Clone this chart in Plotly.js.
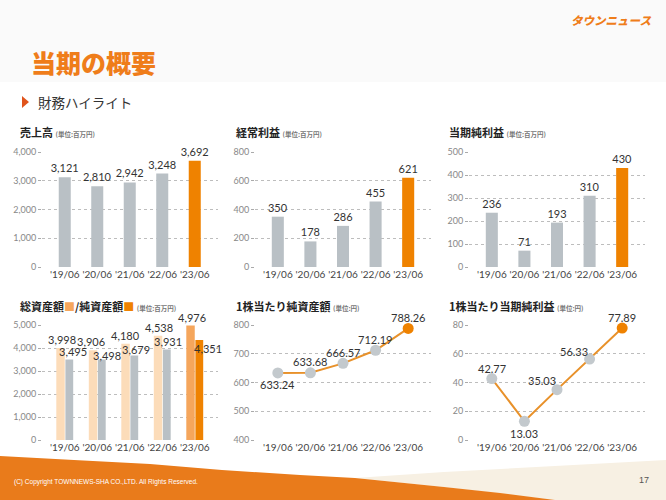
<!DOCTYPE html>
<html><head><meta charset="utf-8">
<script src="https://cdn.plot.ly/plotly-3.0.1.min.js"></script>
<style>html,body{margin:0;padding:0;background:#fff}#chart{width:666px;height:500px}</style>
</head><body><div id="chart"></div>
<script>
// ---- data ----
const years = ["'19/06", "'20/06", "'21/06", "'22/06", "'23/06"];
const sales = [3121, 2810, 2942, 3248, 3692];
const ordinaryProfit = [350, 178, 286, 455, 621];
const netIncome = [236, 71, 193, 310, 430];
const totalAssets = [3998, 3906, 4180, 4538, 4976];
const netAssets = [3495, 3498, 3679, 3931, 4351];
const bookValuePerShare = [633.24, 633.68, 666.57, 712.19, 788.26];
const earningsPerShare = [42.77, 13.03, 35.03, 56.33, 77.89];
const panelTitles = ["売上高", "経常利益", "当期純利益", "総資産額", "1株当たり純資産額", "1株当たり当期純利益"];
const unitMillion = "(単位:百万円)";
const unitYen = "(単位:円)";

// ---- style ----
const W = 666, H = 500;
const GRAY = '#b9c0c5', ORANGE = '#ef8200', BEIGE = '#fcdcb9', LIGHTOR = '#f5a65c';
const LINEOR = '#e8912a', MARKGRAY = '#c3c9cd';
const NUMFONT = 'Lato, "Noto Sans CJK JP", sans-serif';
const JPFONT = '"Noto Sans CJK JP", sans-serif';
const px = x => x / W;
const py = y => 1 - y / H;
const last = years.length - 1;
const hl = (base, hi) => years.map((_, i) => i === last ? hi : base);

const colX = [[42, 217.5], [255, 431], [469, 645]];
const rowY = [[152, 267], [325, 440]];
const sfx = n => (n === 1 ? '' : String(n));
function xax(c, r) {
  return {domain: [px(colX[c][0]), px(colX[c][1])], type: 'category', range: [-0.7, 4.7],
    anchor: 'y' + sfx(r * 3 + c + 1),
    showgrid: false, zeroline: false, showline: false, ticks: '',
    tickfont: {size: 10, color: '#444', family: NUMFONT}, fixedrange: true};
}
function yax(c, r, range, dtick) {
  return {domain: [py(rowY[r][1]), py(rowY[r][0])], range: range, dtick: dtick, tickformat: ',d',
    anchor: 'x' + sfx(r * 3 + c + 1),
    showgrid: true, gridcolor: '#bdbdbd', griddash: 'dot', gridwidth: 1,
    zeroline: true, zerolinecolor: 'rgba(0,0,0,0)', showline: false,
    ticks: 'outside', ticklen: 3, tickcolor: '#aaa',
    tickfont: {size: 9, color: '#888', family: NUMFONT}, fixedrange: true};
}

const labelFont = {size: 11, color: '#333', family: NUMFONT};
function singleBar(vals, xa, ya) {
  return {type: 'bar', x: years, y: vals, xaxis: xa, yaxis: ya, width: 0.37,
    marker: {color: hl(GRAY, ORANGE)}, text: vals.map(v => v.toLocaleString('en-US')),
    textposition: 'outside', constraintext: 'none', cliponaxis: false, textfont: labelFont};
}
function lineTrace(vals, xa, ya) {
  return {type: 'scatter', mode: 'lines+markers', x: years, y: vals, xaxis: xa, yaxis: ya,
    line: {color: LINEOR, width: 2}, marker: {size: 11, color: hl(MARKGRAY, ORANGE)}, cliponaxis: false};
}

const traces = [
  singleBar(sales, 'x', 'y'),
  singleBar(ordinaryProfit, 'x2', 'y2'),
  singleBar(netIncome, 'x3', 'y3'),
  {type: 'bar', x: years, y: totalAssets, xaxis: 'x4', yaxis: 'y4', width: 0.26, offset: -0.26,
    marker: {color: hl(BEIGE, LIGHTOR)}},
  {type: 'bar', x: years, y: netAssets, xaxis: 'x4', yaxis: 'y4', width: 0.24, offset: 0.02,
    marker: {color: hl(GRAY, ORANGE)}},
  lineTrace(bookValuePerShare, 'x5', 'y5'),
  lineTrace(earningsPerShare, 'x6', 'y6')
];

const annotations = [];
// value labels for grouped panel
const totShiftX = [-3, -6, -4, -3, -3];
const netShiftX = [8, 10, 6, 6, 13];
const netShiftY = [0, -4, -3, 0, -17];
years.forEach((yr, i) => {
  annotations.push({xref: 'x4', yref: 'y4', x: yr, y: totalAssets[i], text: totalAssets[i].toLocaleString('en-US'),
    showarrow: false, yanchor: 'bottom', xshift: totShiftX[i], font: labelFont});
  annotations.push({xref: 'x4', yref: 'y4', x: yr, y: netAssets[i], text: netAssets[i].toLocaleString('en-US'),
    showarrow: false, yanchor: 'bottom', xshift: netShiftX[i], yshift: netShiftY[i], font: labelFont});
});
// value labels for line panels
const bpsShift = [[0, -12], [0, 11], [0, 11], [0, 11], [0, 11]];
const epsShift = [[0, 10], [0, -12], [-15, 9], [-16, 8], [0, 11]];
years.forEach((yr, i) => {
  annotations.push({xref: 'x5', yref: 'y5', x: yr, y: bookValuePerShare[i], text: bookValuePerShare[i].toFixed(2),
    showarrow: false, xshift: bpsShift[i][0], yshift: bpsShift[i][1], font: labelFont});
  annotations.push({xref: 'x6', yref: 'y6', x: yr, y: earningsPerShare[i], text: earningsPerShare[i].toFixed(2),
    showarrow: false, xshift: epsShift[i][0], yshift: epsShift[i][1], font: labelFont});
});
// panel titles
const unitSpan = u => ' <span style="font-size:6.5px;color:#777">' + u + '</span>';
const titlePos = [[18, 132], [234, 132], [447, 132], [18, 306], [234, 306], [447, 306]];
const titleTexts = [
  panelTitles[0] + unitSpan(unitMillion),
  panelTitles[1] + unitSpan(unitMillion),
  panelTitles[2] + unitSpan(unitMillion),
  panelTitles[3] + '<span style="color:' + LIGHTOR + '">■</span>/純資産額<span style="color:' + ORANGE + '">■</span>' + unitSpan(unitMillion),
  panelTitles[4] + unitSpan(unitYen),
  panelTitles[5] + unitSpan(unitYen)
];
titleTexts.forEach((t, i) => annotations.push({xref: 'paper', yref: 'paper', x: px(titlePos[i][0]), y: py(titlePos[i][1]),
  xanchor: 'left', yanchor: 'middle', text: t, showarrow: false,
  font: {size: 11, color: '#222', family: JPFONT, weight: 'bold'}}));
// header texts
annotations.push({xref: 'paper', yref: 'paper', x: px(29), y: py(62), xanchor: 'left', yanchor: 'middle', showarrow: false,
  text: '当期の概要', font: {size: 25, color: '#ef7d1a', family: JPFONT, weight: 900}});
annotations.push({xref: 'paper', yref: 'paper', x: px(36), y: py(102), xanchor: 'left', yanchor: 'middle', showarrow: false,
  text: '財務ハイライト', font: {size: 13.5, color: '#333', family: JPFONT}});
annotations.push({xref: 'paper', yref: 'paper', x: px(653), y: py(20), xanchor: 'right', yanchor: 'middle', showarrow: false,
  text: 'タウンニュース', font: {size: 11.5, color: '#ef7d1a', family: JPFONT, weight: 900, style: 'italic'}});
annotations.push({xref: 'paper', yref: 'paper', x: px(12), y: py(482), xanchor: 'left', yanchor: 'middle', showarrow: false,
  text: '(C) Copyright TOWNNEWS-SHA CO.,LTD. All Rights Reserved.', font: {size: 6.5, color: '#fff', family: 'Liberation Sans, Arial, sans-serif'}});
annotations.push({xref: 'paper', yref: 'paper', x: px(651), y: py(480), xanchor: 'right', yanchor: 'middle', showarrow: false,
  text: '17', font: {size: 9, color: '#555', family: 'Liberation Sans, Arial, sans-serif'}});

function pathPx(pts) {
  return 'M ' + pts.map(p => px(p[0]).toFixed(4) + ',' + py(p[1]).toFixed(4)).join(' L ') + ' Z';
}
const shapes = [
  {type: 'rect', xref: 'paper', yref: 'paper', x0: 0, x1: 1, y0: py(82), y1: 1, fillcolor: '#fafafa', line: {width: 0}, layer: 'below'},
  {type: 'path', xref: 'paper', yref: 'paper', layer: 'below', fillcolor: '#f7f0e3', line: {width: 0},
    path: pathPx([[340, 479], [444, 472], [555, 466], [666, 460], [666, 500], [555, 500], [444, 487], [355, 478]])},
  {type: 'path', xref: 'paper', yref: 'paper', layer: 'below', fillcolor: '#e97b1b', line: {width: 0},
    path: pathPx([[0, 456], [74, 460], [150, 464], [222, 470], [300, 475], [355, 478], [444, 487], [500, 493], [555, 500], [0, 500]])},
  {type: 'path', xref: 'paper', yref: 'paper', fillcolor: '#e0541c', line: {width: 0},
    path: pathPx([[22, 96], [29, 102], [22, 108]])}
];

const layout = {
  width: W, height: H, margin: {l: 0, r: 0, t: 0, b: 0}, paper_bgcolor: '#fff', plot_bgcolor: 'rgba(0,0,0,0)',
  showlegend: false, hovermode: false, barmode: 'overlay', font: {family: NUMFONT},
  xaxis: xax(0, 0), yaxis: yax(0, 0, [0, 4000], 1000),
  xaxis2: xax(1, 0), yaxis2: yax(1, 0, [0, 800], 200),
  xaxis3: xax(2, 0), yaxis3: yax(2, 0, [0, 500], 100),
  xaxis4: xax(0, 1), yaxis4: yax(0, 1, [0, 5000], 1000),
  xaxis5: xax(1, 1), yaxis5: yax(1, 1, [400, 800], 100),
  xaxis6: xax(2, 1), yaxis6: yax(2, 1, [0, 80], 20),
  annotations: annotations, shapes: shapes
};
Plotly.newPlot('chart', traces, layout, {displayModeBar: false, staticPlot: true});
</script></body></html>
